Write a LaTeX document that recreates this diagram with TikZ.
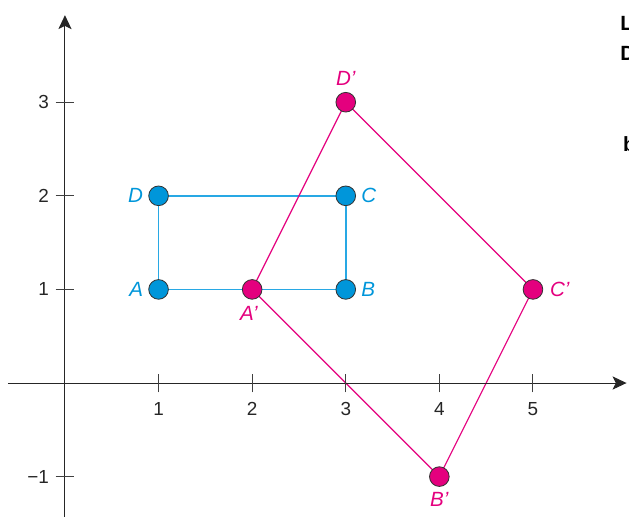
\documentclass[tikz,border=0pt]{standalone}
\usepackage{fontspec}
\setmainfont{Liberation Sans}
\definecolor{ptblue}{RGB}{0,150,218}
\definecolor{lineblue}{RGB}{40,168,228}
\definecolor{ptpink}{RGB}{228,0,126}
\usetikzlibrary{arrows.meta,positioning,backgrounds}

\begin{document}
\begin{tikzpicture}[
  x=2cm, y=2cm,
  pt/.style={circle, draw=black!80, line width=0.5pt, inner sep=0pt, minimum size=0.42cm},
  bpt/.style={pt, fill=ptblue},
  mpt/.style={pt, fill=ptpink},
  lab/.style={font=\fontsize{12.5}{15}\selectfont\itshape, inner sep=1pt},
  blab/.style={lab, text=ptblue},
  mlab/.style={lab, text=ptpink},
  num/.style={font=\fontsize{11.5}{13}\selectfont, text=black!85, inner sep=1pt},
  axis/.style={line width=0.6pt, black!85, -{Stealth[length=8.5pt, width=8pt, inset=2pt]}},
  tickmark/.style={line width=0.6pt, black!75},
  side/.style={line width=0.7pt},
]
\useasboundingbox (-0.694,-1.421) rectangle (6.026,4.092);

% axes
\coordinate (xl) at (-0.61,0);
\coordinate (xr) at (6.0,0);
\coordinate (yb) at (0,-1.45);
\coordinate (yt) at (0,3.93);
\draw[axis] (xl) -- (xr);
\draw[axis] (yb) -- (yt);
\foreach \x in {1,...,5} {
  \draw[tickmark] (\x,-0.1) -- (\x,0.1);
  \node[num] (tx\x) at (\x,-0.28) {\x};
}
\foreach \y/\t in {1/1,2/2,3/3,-1/−1} {
  \draw[tickmark] (-0.1,\y) -- (0.1,\y);
  \node[num, anchor=east] (ty\t) at (-0.15,\y) {\t};
}

% rectangle ABCD
\node[bpt] (A) at (1,1) {};
\node[bpt] (B) at (3,1) {};
\node[bpt] (C) at (3,2) {};
\node[bpt] (D) at (1,2) {};
\node[blab, left=2pt of A] (labA) {A};
\node[blab, right=2pt of B] (labB) {B};
\node[blab, right=2pt of C] (labC) {C};
\node[blab, left=2pt of D] (labD) {D};

% image A'B'C'D'
\node[mpt] (Ap) at (2,1) {};
\node[mpt] (Bp) at (4,-1) {};
\node[mpt] (Cp) at (5,1) {};
\node[mpt] (Dp) at (3,3) {};
\node[mlab, below=3pt of Ap, xshift=-2pt] (labAp) {A’};
\node[mlab, below=2pt of Bp] (labBp) {B’};
\node[mlab, right=3pt of Cp] (labCp) {C’};
\node[mlab, above=2.5pt of Dp] (labDp) {D’};

\begin{scope}[on background layer]
\draw[side, lineblue, line width=0.9pt] (A.center) -- (B.center) -- (C.center) -- (D.center) -- cycle;
\draw[side, ptpink] (Ap.center) -- (Bp.center) -- (Cp.center) -- (Dp.center) -- cycle;
\end{scope}

% cut-off text at the right edge
\node[font=\fontsize{12.5}{15}\selectfont\bfseries, anchor=base west, inner sep=0pt] (txtL) at (5.93,3.77) {L};
\node[font=\fontsize{12.5}{15}\selectfont\bfseries, anchor=base west, inner sep=0pt] (txtD) at (5.93,3.45) {D};
\node[font=\fontsize{12.5}{15}\selectfont\bfseries, anchor=base west, inner sep=0pt] (txtb) at (5.96,2.47) {b};
\end{tikzpicture}
\end{document}
